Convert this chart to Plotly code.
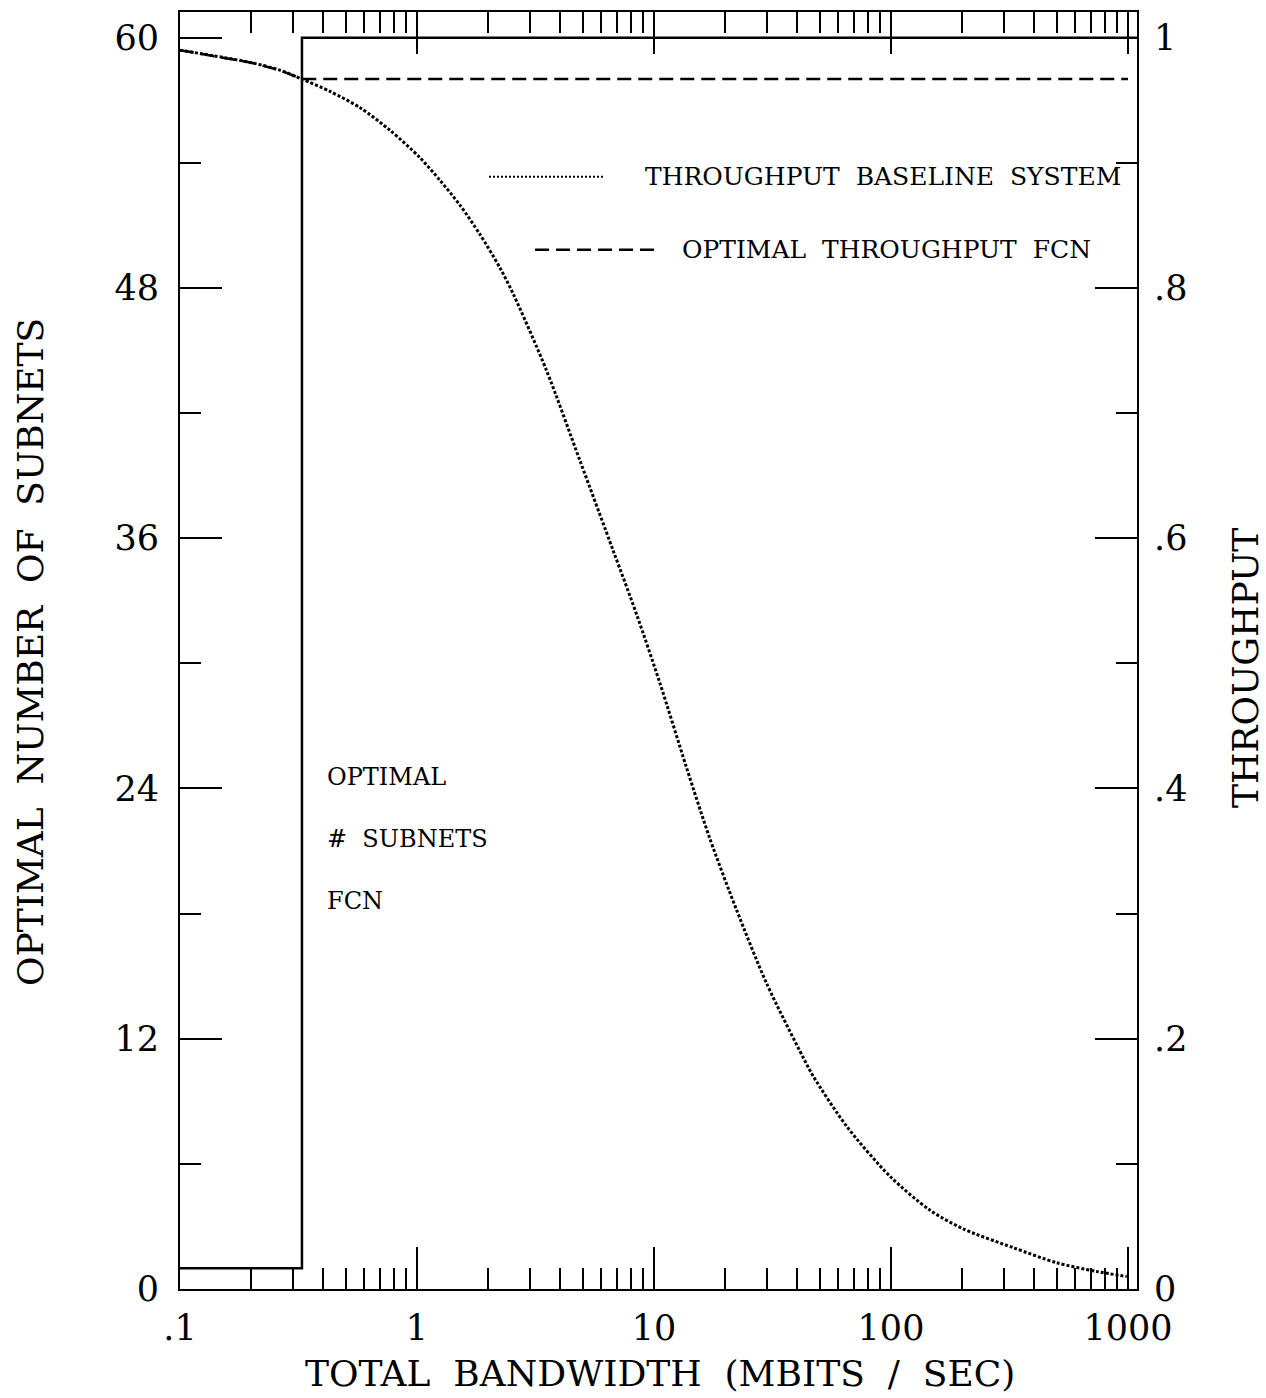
import plotly.graph_objects as go

# ---- data ----
# baseline system throughput vs total bandwidth (Mbit/s)
bw_baseline = [0.1, 0.2, 0.264, 0.326, 0.43, 0.575, 0.769, 1.03, 1.25, 1.52, 1.84, 2.24,
               2.55, 3.52, 4.87, 6.73, 8.45, 10.6, 13.7, 17.2, 22.3, 29.9, 42.6, 47.0,
               65.0, 99.1, 146, 202, 328, 500, 738, 988]
thr_baseline = [0.990, 0.980, 0.974, 0.967, 0.957, 0.944, 0.926, 0.904, 0.886, 0.866, 0.843, 0.816,
                0.795, 0.734, 0.662, 0.590, 0.539, 0.484, 0.417, 0.360, 0.303, 0.244, 0.185, 0.170,
                0.130, 0.090, 0.063, 0.048, 0.033, 0.021, 0.014, 0.010]

# optimal throughput of the FCN
bw_fcn_thr = [0.1, 0.2, 0.264, 0.327, 1000]
thr_fcn = [0.990, 0.980, 0.974, 0.967, 0.967]

# optimal number of subnets of the FCN (step function)
bw_subnets = [0.1, 0.327, 1092]
n_subnets = [1, 60, 60]

x_tickvals = [0.1, 1, 10, 100, 1000]
x_ticktext = [".1", "1", "10", "100", "1000"]
x_minor = [0.2, 0.3, 0.4, 0.5, 0.6, 0.7, 0.8, 0.9,
           2, 3, 4, 5, 6, 7, 8, 9,
           20, 30, 40, 50, 60, 70, 80, 90,
           200, 300, 400, 500, 600, 700, 800, 900]
y_tickvals = [0, 12, 24, 36, 48, 60]
y_ticktext = ["0", "12", "24", "36", "48", "60"]
y2_tickvals = [0, 0.2, 0.4, 0.6, 0.8, 1.0]
y2_ticktext = ["0", ".2", ".4", ".6", ".8", "1"]

FONT = "DejaVu Serif"

fig = go.Figure()

fig.add_trace(go.Scatter(
    x=bw_baseline, y=thr_baseline, yaxis="y2", mode="lines",
    line=dict(color="black", width=3, dash="3px,2px", shape="spline", smoothing=0.8),
    name="THROUGHPUT BASELINE SYSTEM", showlegend=False))

fig.add_trace(go.Scatter(
    x=bw_fcn_thr, y=thr_fcn, yaxis="y2", mode="lines",
    line=dict(color="black", width=2.5, dash="14px,7px"),
    name="OPTIMAL THROUGHPUT FCN", showlegend=False))

fig.add_trace(go.Scatter(
    x=bw_subnets, y=n_subnets, mode="lines", line_shape="hv",
    line=dict(color="black", width=2.5),
    name="OPTIMAL # SUBNETS FCN", showlegend=False))

axis_common = dict(showgrid=False, zeroline=False, color="black",
                   tickfont=dict(family=FONT, size=35, color="black"))

fig.update_layout(
    width=1266, height=1398,
    margin=dict(l=180, r=129, t=10, b=109),
    paper_bgcolor="white", plot_bgcolor="white",
    font=dict(family=FONT, color="black"),
    xaxis=dict(type="log", range=[-1, 3.038],
               tickmode="array", tickvals=x_tickvals, ticktext=x_ticktext,
               ticks="inside", ticklen=42, tickwidth=1.5, tickcolor="black",
               minor=dict(tickmode="array", tickvals=x_minor, ticks="inside",
                          ticklen=21, tickwidth=1.5, tickcolor="black"),
               showline=True, linewidth=2, linecolor="black", mirror="ticks",
               ticklabelstandoff=7, **axis_common),
    yaxis=dict(range=[0, 61.23], tickmode="array", tickvals=y_tickvals, ticktext=y_ticktext,
               ticks="inside", ticklen=42, tickwidth=1.5, tickcolor="black",
               minor=dict(dtick=6, tick0=0, ticks="inside", ticklen=21,
                          tickwidth=1.5, tickcolor="black"),
               showline=True, linewidth=2, linecolor="black", mirror="ticks",
               ticklabelstandoff=12, **axis_common),
    yaxis2=dict(range=[0, 1.0205], overlaying="y", side="right",
                tickmode="array", tickvals=y2_tickvals, ticktext=y2_ticktext,
                ticks="", showline=False, ticklabelstandoff=16, **axis_common),
)

# legend line samples (paper coordinates)
fig.add_shape(type="line", xref="paper", yref="paper", x0=0.3229, x1=0.442, y0=0.871, y1=0.871,
              line=dict(color="black", width=2, dash="2px,2px"))
fig.add_shape(type="line", xref="paper", yref="paper", x0=0.371, x1=0.4963, y0=0.8139, y1=0.8139,
              line=dict(color="black", width=2.5, dash="14px,7px"))

def ann(text, x, y, size, xanchor="left", angle=0):
    fig.add_annotation(text=text, x=x, y=y, xref="paper", yref="paper",
                       xanchor=xanchor, yanchor="middle", showarrow=False,
                       textangle=angle, font=dict(family=FONT, size=size, color="black"))

ann("THROUGHPUT  BASELINE  SYSTEM", 0.4838, 0.871, 25)
ann("OPTIMAL  THROUGHPUT  FCN", 0.5225, 0.8139, 25)
ann("OPTIMAL", 0.1515, 0.4011, 24)
ann("#  SUBNETS", 0.1515, 0.3526, 24)
ann("FCN", 0.1515, 0.3041, 24)

ann("TOTAL  BANDWIDTH  (MBITS  /  SEC)", 0.5016, -0.0665, 36, xanchor="center")
ann("OPTIMAL  NUMBER  OF  SUBNETS", -0.1567, 0.4988, 36, xanchor="center", angle=-90)
ann("THROUGHPUT", 1.114, 0.4863, 36, xanchor="center", angle=-90)

fig.write_html("out.html")
